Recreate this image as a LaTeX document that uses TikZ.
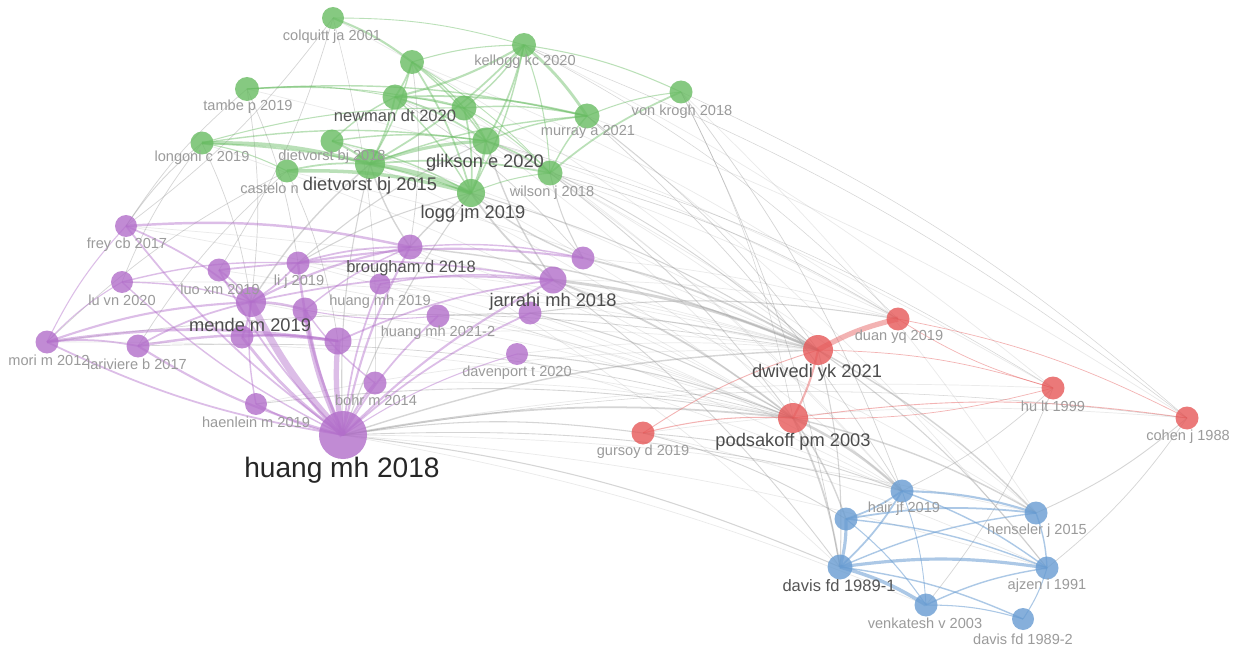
\documentclass[tikz,border=0pt]{standalone}
\usepackage{fontspec}
\setmainfont{Liberation Sans}
\usepackage{tikz}
\usetikzlibrary{backgrounds}

\definecolor{vgreen}{RGB}{104,188,98}
\definecolor{vpurple}{RGB}{178,110,202}
\definecolor{vred}{RGB}{230,88,88}
\definecolor{vblue}{RGB}{104,156,210}
\definecolor{linkgray}{RGB}{150,150,150}
\definecolor{lblgray}{RGB}{155,155,155}
\definecolor{lbldark}{RGB}{85,85,85}

\tikzset{
    dot/.style    = {circle, inner sep = 0pt, draw = none, fill opacity = 0.8},
    gdot/.style   = {dot, fill = vgreen},
    pdot/.style   = {dot, fill = vpurple},
    rdot/.style   = {dot, fill = vred},
    bdot/.style   = {dot, fill = vblue},
    lsm/.style    = {inner sep = 0pt, text = lblgray, font = \fontsize{8.3}{9}\selectfont},
    lmd/.style    = {inner sep = 0pt, text = lbldark, font = \fontsize{9.4}{10}\selectfont},
    lbg/.style    = {inner sep = 0pt, text = lbldark!90!black, font = \fontsize{10.4}{12}\selectfont},
    gl/.style     = {draw = vgreen, draw opacity = 0.45, line width = #1},
    pl/.style     = {draw = vpurple, draw opacity = 0.45, line width = #1},
    rl/.style     = {draw = vred, draw opacity = 0.45, line width = #1},
    bl/.style     = {draw = vblue, draw opacity = 0.55, line width = #1},
    xl/.style     = {draw = linkgray, draw opacity = 0.4, line width = #1},
    fl/.style     = {draw = linkgray, draw opacity = 0.2, line width = #1}
}

\begin{document}
\begin{tikzpicture}[x = 0.02cm, y = -0.02cm]
    \useasboundingbox (0,0) rectangle (1235,652);

    % Nodes of the four clusters:
    \foreach \n/\x/\y/\d in {colquitt/333/18/22, gnodeA/412/62/24, kellogg/524/45/24, tambe/247/89/24,
                             newman/395/97/25, gnodeB/464/108/25, murray/587/116/25, vonkrogh/681/92/23,
                             longoni/202/143/23, dietvorstB/332/141/23, glikson/486/141/27, castelo/287/171/23,
                             dietvorstA/370/164/30, wilson/550/173/25, logg/471/193/28}
        \node [gdot, minimum size = \d*0.02cm] (\n) at (\x,\y) {};
    \foreach \n/\x/\y/\d in {frey/126/226/22, luvn/122/282/22, luoxm/219/270/23, lij/298/263/23,
                             mende/251/302/30, pnodeA/305/310/25, pnodeB/242/337/23, pnodeC/338/341/27,
                             brougham/410/247/25, huangB/380/284/21, huangC/438/316/23, jarrahi/553/280/27,
                             pnodeD/583/258/23, pnodeE/530/313/23, davenport/517/354/22, bohr/375/383/23,
                             haenlein/256/404/22, huangA/343/435/48, mori/47/342/23, lariviere/138/346/23}
        \node [pdot, minimum size = \d*0.02cm] (\n) at (\x,\y) {};
    \foreach \n/\x/\y/\d in {duan/898/319/23, dwivedi/818/350/30, hu/1053/388/23,
                             cohen/1187/418/23, podsakoff/793/418/30, gursoy/643/433/23}
        \node [rdot, minimum size = \d*0.02cm] (\n) at (\x,\y) {};
    \foreach \n/\x/\y/\d in {hair/902/491/23, bnodeA/846/519/23, henseler/1036/513/23, davisA/840/567/25,
                             ajzen/1047/568/23, venkatesh/926/605/23, davisB/1023/619/22}
        \node [bdot, minimum size = \d*0.02cm] (\n) at (\x,\y) {};

    % Links, behind the nodes:
    \begin{scope}[on background layer]
        \fill [white] (0,0) rectangle (1235,652);
        % faint background haze
        \foreach \a/\b in {logg/hair, glikson/podsakoff, wilson/hair, vonkrogh/henseler, newman/dwivedi,
                           dietvorstA/podsakoff, mende/podsakoff, frey/dwivedi, lij/dwivedi, brougham/podsakoff,
                           huangB/dwivedi, luoxm/podsakoff, pnodeD/duan, jarrahi/duan, murray/cohen, kellogg/hu,
                           tambe/duan, longoni/podsakoff, colquitt/dwivedi, gnodeB/hair, castelo/dwivedi,
                           mori/podsakoff, luvn/dwivedi, frey/podsakoff, pnodeC/dwivedi, bohr/podsakoff,
                           haenlein/dwivedi, davenport/dwivedi, huangA/henseler, huangA/ajzen, huangA/venkatesh,
                           pnodeE/hair, jarrahi/henseler, wilson/henseler, murray/ajzen, gnodeA/duan,
                           dietvorstB/dwivedi, glikson/duan, newman/hu, gursoy/cohen, gursoy/ajzen,
                           mende/hair, lij/hair, brougham/davisA, huangC/podsakoff, huangA/hu}
            \draw [fl = 0.4pt] (\a.center) to [bend left = 6] (\b.center);
        \foreach \a/\b/\w in {jarrahi/dwivedi/1.6pt, pnodeD/dwivedi/1pt, jarrahi/podsakoff/1pt, huangA/podsakoff/1pt,
                              huangA/dwivedi/0.8pt, pnodeE/duan/0.6pt, brougham/dwivedi/0.8pt, logg/dwivedi/0.6pt,
                              glikson/dwivedi/0.5pt, wilson/podsakoff/0.5pt, vonkrogh/davisA/0.4pt, vonkrogh/hair/0.4pt,
                              murray/hair/0.4pt, podsakoff/hair/1.4pt, podsakoff/henseler/0.8pt, podsakoff/davisA/1pt,
                              podsakoff/bnodeA/0.8pt, dwivedi/davisA/0.6pt, dwivedi/ajzen/0.6pt, dwivedi/henseler/0.8pt,
                              gursoy/hair/0.5pt, gursoy/bnodeA/0.5pt, jarrahi/davisA/0.5pt, huangA/cohen/0.3pt,
                              mori/castelo/0.4pt, frey/longoni/0.5pt, frey/tambe/0.4pt, luvn/longoni/0.4pt,
                              lariviere/castelo/0.4pt, mende/dietvorstA/0.8pt, lij/logg/0.6pt, lij/glikson/0.6pt,
                              brougham/logg/0.8pt, brougham/dietvorstA/0.8pt, jarrahi/logg/1pt, jarrahi/glikson/0.8pt,
                              pnodeD/wilson/0.6pt, pnodeD/logg/0.8pt, huangA/logg/0.6pt, huangA/dietvorstA/0.6pt,
                              huangA/davisA/0.6pt, huangA/hair/0.5pt, hu/hair/0.4pt, cohen/henseler/0.5pt,
                              cohen/ajzen/0.4pt, hu/venkatesh/0.4pt, colquitt/frey/0.4pt, colquitt/luoxm/0.4pt,
                              tambe/lij/0.4pt, kellogg/duan/0.3pt, vonkrogh/cohen/0.3pt, murray/dwivedi/0.4pt,
                              davenport/podsakoff/0.6pt, huangC/dwivedi/0.6pt, pnodeE/podsakoff/0.6pt, tambe/mende/0.4pt,
                              longoni/mende/0.4pt, castelo/pnodeC/0.4pt, gnodeA/brougham/0.4pt, newman/pnodeD/0.4pt,
                              colquitt/bohr/0.3pt, huangA/gursoy/0.6pt, haenlein/podsakoff/0.5pt, mori/dwivedi/0.4pt,
                              lariviere/podsakoff/0.4pt, wilson/duan/0.4pt, glikson/hu/0.3pt, vonkrogh/podsakoff/0.3pt,
                              kellogg/cohen/0.3pt}
            \draw [xl = \w] (\a.center) to [bend left = 8] (\b.center);
        \foreach \a/\b/\w in {colquitt/gnodeA/1.2pt, gnodeA/newman/1pt, gnodeA/gnodeB/0.8pt, gnodeA/kellogg/0.6pt,
                              gnodeA/glikson/0.8pt, gnodeA/logg/1pt, gnodeA/dietvorstA/0.8pt, gnodeA/wilson/0.5pt,
                              kellogg/murray/1.6pt, kellogg/newman/1.2pt, kellogg/gnodeB/0.8pt, kellogg/glikson/1pt,
                              kellogg/wilson/0.6pt, kellogg/vonkrogh/0.6pt, kellogg/dietvorstA/1pt, kellogg/logg/0.8pt,
                              tambe/murray/0.8pt, tambe/gnodeB/0.6pt, tambe/newman/0.5pt, newman/murray/1pt,
                              newman/gnodeB/1pt, newman/glikson/1pt, newman/logg/0.8pt, newman/dietvorstA/1pt,
                              gnodeB/glikson/1pt, gnodeB/logg/1pt, gnodeB/murray/0.8pt, gnodeB/wilson/0.6pt,
                              longoni/dietvorstA/2pt, longoni/logg/1pt, longoni/glikson/0.8pt, longoni/gnodeB/0.6pt,
                              longoni/castelo/0.6pt, dietvorstB/dietvorstA/1.2pt, dietvorstB/glikson/0.8pt,
                              dietvorstB/logg/0.8pt, dietvorstB/newman/0.8pt, castelo/dietvorstA/1pt, castelo/logg/2pt,
                              dietvorstA/logg/2.4pt, dietvorstA/glikson/1.8pt, glikson/logg/1.4pt, glikson/wilson/1pt,
                              glikson/murray/0.8pt, wilson/vonkrogh/1pt, wilson/murray/0.8pt, murray/vonkrogh/0.6pt,
                              logg/wilson/0.6pt, dietvorstA/wilson/1pt, dietvorstA/murray/0.8pt, colquitt/kellogg/0.5pt}
            \draw [gl = \w] (\a.center) to [bend left = 8] (\b.center);
        \foreach \a/\b/\w in {huangA/mende/4pt, huangA/pnodeA/3pt, huangA/pnodeC/3pt, huangA/pnodeB/1.6pt,
                              huangA/lij/1.4pt, huangA/brougham/1.2pt, huangA/jarrahi/1.2pt, huangA/pnodeE/1pt,
                              huangA/bohr/1.2pt, huangA/haenlein/1pt, huangA/frey/1pt, huangA/mori/1pt,
                              huangA/lariviere/1.2pt, huangA/luvn/0.8pt, huangA/luoxm/1pt, huangA/huangB/1pt,
                              huangA/huangC/1pt, huangA/davenport/0.6pt, mori/mende/1.2pt, mori/pnodeC/1.6pt,
                              mori/lariviere/1pt, mori/luvn/0.6pt, mori/frey/0.6pt, lariviere/pnodeC/1.4pt,
                              lariviere/mende/1pt, frey/brougham/1.4pt, frey/mende/1pt, luvn/lij/0.8pt,
                              luvn/mende/0.8pt, luoxm/jarrahi/1pt, luoxm/mende/1pt, mende/brougham/1.2pt,
                              mende/jarrahi/1pt, lij/pnodeD/1.2pt, brougham/pnodeD/0.8pt, pnodeC/jarrahi/1pt,
                              mende/pnodeA/1.4pt, mende/pnodeB/1.2pt, huangB/jarrahi/0.8pt, lij/mende/1pt,
                              pnodeA/brougham/0.8pt, lij/brougham/1pt, pnodeB/pnodeC/1pt, bohr/pnodeA/0.8pt,
                              haenlein/mende/0.8pt, huangC/pnodeA/0.6pt}
            \draw [pl = \w] (\a.center) to [bend left = 8] (\b.center);
        \foreach \a/\b/\w in {dwivedi/duan/3pt, dwivedi/podsakoff/1.2pt, gursoy/dwivedi/0.5pt, gursoy/podsakoff/0.6pt,
                              podsakoff/cohen/0.5pt, hu/duan/0.4pt, hu/podsakoff/0.4pt, duan/cohen/0.4pt, dwivedi/hu/0.4pt}
            \draw [rl = \w] (\a.center) to [bend left = 8] (\b.center);
        \foreach \a/\b/\w in {hair/bnodeA/1pt, hair/henseler/1.2pt, hair/davisA/1pt, hair/ajzen/0.8pt,
                              bnodeA/davisA/1.8pt, bnodeA/henseler/1pt, bnodeA/ajzen/0.8pt, bnodeA/venkatesh/0.6pt,
                              davisA/ajzen/1.8pt, davisA/venkatesh/2pt, davisA/davisB/0.8pt, davisA/henseler/0.8pt,
                              venkatesh/ajzen/0.8pt, venkatesh/davisB/0.6pt, henseler/ajzen/0.8pt, ajzen/davisB/0.6pt,
                              hair/venkatesh/0.5pt}
            \draw [bl = \w] (\a.center) to [bend left = 8] (\b.center);
    \end{scope}

    % Labels:
    \foreach \n/\x/\y/\t in {colquitt/332/37/{colquitt ja 2001}, kellogg/525/62/{kellogg kc 2020},
                             tambe/248/107/{tambe p 2019}, murray/588/132/{murray a 2021},
                             vonkrogh/682/112/{von krogh 2018}, longoni/202/158/{longoni c 2019},
                             dietvorstB/332/157/{dietvorst bj 2018}, wilson/552/193/{wilson j 2018},
                             frey/127/245/{frey cb 2017}, luvn/122/300/{lu vn 2020}, luoxm/220/289/{luo xm 2019},
                             lij/299/282/{li j 2019}, huangB/380/302/{huang mh 2019}, huangC/438/333/{huang mh 2021-2},
                             davenport/517/373/{davenport t 2020}, bohr/376/400/{bohr m 2014},
                             haenlein/256/422/{haenlein m 2019}, mori/49/360/{mori m 2012},
                             lariviere/137/364/{lariviere b 2017}, duan/899/337/{duan yq 2019},
                             gursoy/643/452/{gursoy d 2019}, hu/1053/406/{hu lt 1999}, cohen/1188/437/{cohen j 1988},
                             hair/904/509/{hair jf 2019}, henseler/1037/531/{henseler j 2015},
                             ajzen/1047/586/{ajzen i 1991}, venkatesh/925/623/{venkatesh v 2003},
                             davisB/1023/639/{davis fd 1989-2}}
        \node [lsm] (\n-t) at (\x,\y) {\t};
    \node [lsm, anchor = west] (castelo-t) at (240,188) {castelo n};
    \node [lmd] (davisA-t) at (839,586) {davis fd 1989-1};
    \node [lmd] (newman-t) at (395,116) {newman dt 2020};
    \node [lmd] (brougham-t) at (411,268) {brougham d 2018};
    \foreach \n/\x/\y/\t in {dietvorstA/370/186/{dietvorst bj 2015}, glikson/485/163/{glikson e 2020},
                             logg/473/214/{logg jm 2019}, mende/250/325/{mende m 2019},
                             jarrahi/553/302/{jarrahi mh 2018}, dwivedi/817/373/{dwivedi yk 2021},
                             podsakoff/793/442/{podsakoff pm 2003}}
        \node [lbg] (\n-t) at (\x,\y) {\t};
    \node [inner sep = 0pt, text = black!85, font = \fontsize{16}{18}\selectfont] (huangA-t) at (342,470) {huang mh 2018};
\end{tikzpicture}
\end{document}
